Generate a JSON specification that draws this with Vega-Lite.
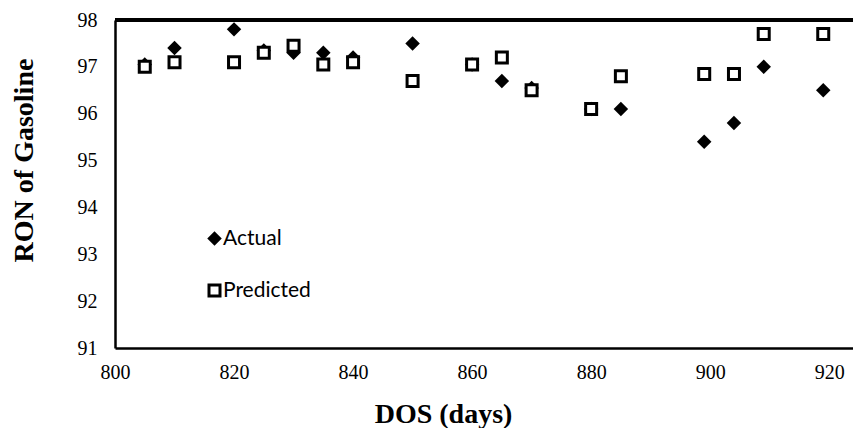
{
  "$schema": "https://vega.github.io/schema/vega-lite/v6.json",
  "autosize": "none",
  "width": 738,
  "height": 328,
  "padding": {"left": 115, "top": 20, "right": 0, "bottom": 80},
  "background": "white",
  "config": {
    "view": {"stroke": null},
    "axis": {"labelFont": "Liberation Serif", "labelFontSize": 20, "labelColor": "black", "titleFont": "Liberation Serif"}
  },
  "data": {"values": [
    {"dos": 805, "ron": 97.05, "series": "Actual"},
    {"dos": 810, "ron": 97.4, "series": "Actual"},
    {"dos": 820, "ron": 97.8, "series": "Actual"},
    {"dos": 825, "ron": 97.35, "series": "Actual"},
    {"dos": 830, "ron": 97.3, "series": "Actual"},
    {"dos": 835, "ron": 97.3, "series": "Actual"},
    {"dos": 840, "ron": 97.2, "series": "Actual"},
    {"dos": 850, "ron": 97.5, "series": "Actual"},
    {"dos": 860, "ron": 97.05, "series": "Actual"},
    {"dos": 865, "ron": 96.7, "series": "Actual"},
    {"dos": 870, "ron": 96.55, "series": "Actual"},
    {"dos": 880, "ron": 96.1, "series": "Actual"},
    {"dos": 885, "ron": 96.1, "series": "Actual"},
    {"dos": 899, "ron": 95.4, "series": "Actual"},
    {"dos": 904, "ron": 95.8, "series": "Actual"},
    {"dos": 909, "ron": 97.0, "series": "Actual"},
    {"dos": 919, "ron": 96.5, "series": "Actual"},
    {"dos": 805, "ron": 97.0, "series": "Predicted"},
    {"dos": 810, "ron": 97.1, "series": "Predicted"},
    {"dos": 820, "ron": 97.1, "series": "Predicted"},
    {"dos": 825, "ron": 97.3, "series": "Predicted"},
    {"dos": 830, "ron": 97.45, "series": "Predicted"},
    {"dos": 835, "ron": 97.05, "series": "Predicted"},
    {"dos": 840, "ron": 97.1, "series": "Predicted"},
    {"dos": 850, "ron": 96.7, "series": "Predicted"},
    {"dos": 860, "ron": 97.05, "series": "Predicted"},
    {"dos": 865, "ron": 97.2, "series": "Predicted"},
    {"dos": 870, "ron": 96.5, "series": "Predicted"},
    {"dos": 880, "ron": 96.1, "series": "Predicted"},
    {"dos": 885, "ron": 96.8, "series": "Predicted"},
    {"dos": 899, "ron": 96.85, "series": "Predicted"},
    {"dos": 904, "ron": 96.85, "series": "Predicted"},
    {"dos": 909, "ron": 97.7, "series": "Predicted"},
    {"dos": 919, "ron": 97.7, "series": "Predicted"}
  ]},
  "layer": [
    {
      "mark": {"type": "rule", "stroke": "black", "strokeWidth": 2.5},
      "encoding": {"y": {"datum": 98, "type": "quantitative", "scale": {"domain": [91, 98]}}}
    },
    {
      "mark": {"type": "point", "opacity": 1, "stroke": "black", "filled": false},
      "encoding": {
        "x": {
          "field": "dos", "type": "quantitative",
          "scale": {"domain": [800, 924], "nice": false, "zero": false},
          "axis": {
            "values": [800, 820, 840, 860, 880, 900, 920],
            "title": "DOS (days)",
            "grid": false, "ticks": false,
            "domainColor": "black", "domainWidth": 2.5,
            "labelFont": "Liberation Serif", "labelFontSize": 20, "labelColor": "black",
            "labelPadding": 14, "labelFlush": false,
            "titleFont": "Liberation Serif", "titleFontSize": 28, "titleFontWeight": "bold", "titleColor": "black",
            "titleX": 328, "titleY": 74, "titleAlign": "center", "titleBaseline": "alphabetic"
          }
        },
        "y": {
          "field": "ron", "type": "quantitative",
          "scale": {"domain": [91, 98], "nice": false, "zero": false},
          "axis": {
            "values": [91, 92, 93, 94, 95, 96, 97, 98],
            "title": "RON of Gasoline",
            "grid": false, "ticks": false,
            "domainColor": "black", "domainWidth": 2.5,
            "labelFont": "Liberation Serif", "labelFontSize": 20, "labelColor": "black",
            "labelPadding": 18, "labelFlush": false,
            "titleFont": "Liberation Serif", "titleFontSize": 28, "titleFontWeight": "bold", "titleColor": "black",
            "titleAngle": -90, "titleX": -83, "titleY": 140, "titleAlign": "center", "titleBaseline": "alphabetic"
          }
        },
        "shape": {
          "field": "series", "type": "ordinal",
          "scale": {"domain": ["Actual", "Predicted"], "range": ["diamond", "square"]},
          "legend": {
            "title": null, "orient": "none", "legendX": 89, "legendY": 208,
            "padding": 0, "rowPadding": 30, "labelOffset": -2,
            "labelFont": "Lato", "labelFontSize": 21, "labelColor": "black"
          }
        },
        "fill": {
          "field": "series", "type": "ordinal",
          "scale": {"domain": ["Actual", "Predicted"], "range": ["black", "white"]}
        },
        "size": {
          "field": "series", "type": "ordinal",
          "scale": {"domain": ["Actual", "Predicted"], "range": [210, 121]}
        },
        "strokeWidth": {
          "field": "series", "type": "ordinal",
          "scale": {"domain": ["Actual", "Predicted"], "range": [0, 3]}
        }
      }
    }
  ]
}
